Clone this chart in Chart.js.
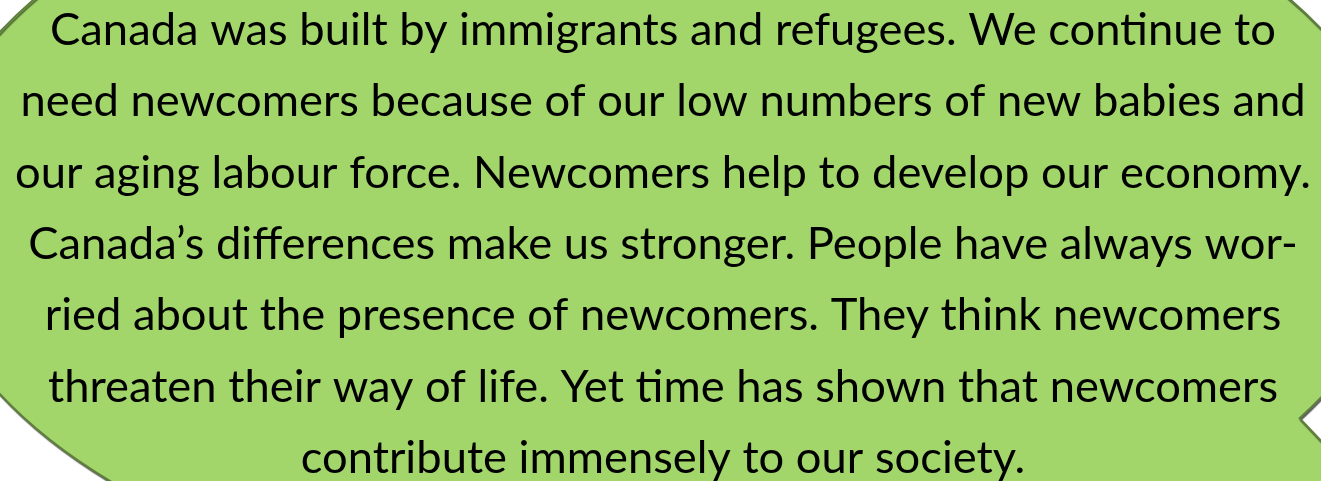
<!DOCTYPE html>
<html lang="en">
<head>
    <meta charset="UTF-8">
    <title>Newcomers callout</title>
    <script src="https://cdn.jsdelivr.net/npm/chart.js"></script>
    <style>
        html, body { margin: 0; padding: 0; background: #ffffff; overflow: hidden; }
        #wrap { width: 1321px; height: 481px; }
    </style>
</head>
<body>
    <div id="wrap"><canvas id="bubbleChart" width="1321" height="481"></canvas></div>

    <script>
        // text lines of the callout, as wrapped in the picture
        const lines = [
            'Canada was built by immigrants and refugees. We continue to',
            'need newcomers because of our low numbers of new babies and',
            'our aging labour force. Newcomers help to develop our economy.',
            'Canada\u2019s differences make us stronger. People have always wor-',
            'ried about the presence of newcomers. They think newcomers',
            'threaten their way of life. Yet time has shown that newcomers',
            'contribute immensely to our society.'
        ];

        const fillColor = '#a2d66b';
        const edgeColor = '#5f7f3c';

        // the callout: a big ellipse, only partly inside the frame, with a tail to the right
        const bubblePlugin = {
            id: 'bubble',
            beforeDraw(chart) {
                const ctx = chart.ctx;
                const cx = 662, cy = 213, rx = 742, ry = 401;
                const t1 = 0.537, t2 = 1.2;
                const p1x = cx + rx * Math.cos(t1), p1y = cy + ry * Math.sin(t1);

                ctx.save();
                ctx.fillStyle = '#ffffff';
                ctx.fillRect(0, 0, chart.width, chart.height);

                ctx.beginPath();
                ctx.ellipse(cx, cy, rx, ry, 0, t2, t1 + Math.PI * 2, false);
                ctx.lineTo(p1x + 300, p1y + 316);
                ctx.closePath();

                ctx.shadowColor = 'rgba(0,0,0,0.5)';
                ctx.shadowOffsetX = 1;
                ctx.shadowOffsetY = 2;
                ctx.shadowBlur = 1;
                ctx.fillStyle = fillColor;
                ctx.fill();
                ctx.lineWidth = 2;
                ctx.strokeStyle = edgeColor;
                ctx.stroke();
                ctx.shadowColor = 'transparent';

                // text, centered, squeezed to the width of the original face
                ctx.font = '45px Lato';
                ctx.fillStyle = '#000000';
                ctx.textAlign = 'center';
                ctx.textBaseline = 'alphabetic';
                const widest = ctx.measureText(lines[2]).width;
                const sx = 1296 / widest;
                const firstBase = 45, step = 71.3;
                lines.forEach((txt, i) => {
                    ctx.save();
                    ctx.translate(663, firstBase + i * step);
                    ctx.scale(sx, 1);
                    ctx.fillText(txt, 0, 0);
                    ctx.restore();
                });
                ctx.restore();
            }
        };

        new Chart(document.getElementById('bubbleChart').getContext('2d'), {
            type: 'scatter',
            data: { datasets: [] },
            options: {
                responsive: false,
                animation: false,
                layout: { padding: 0 },
                plugins: { legend: { display: false }, tooltip: { enabled: false } },
                scales: { x: { display: false }, y: { display: false } }
            },
            plugins: [bubblePlugin]
        });
    </script>
</body>
</html>
